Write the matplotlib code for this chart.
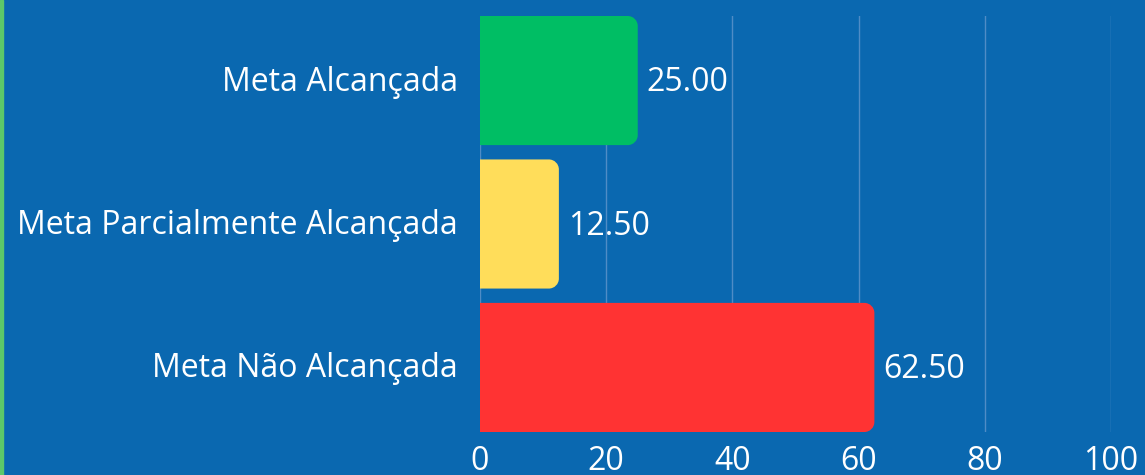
import matplotlib
matplotlib.use('Agg')
import matplotlib.pyplot as plt
import matplotlib.transforms as mtransforms
from matplotlib.patches import PathPatch, Rectangle
from matplotlib.path import Path

categories = ['Meta Alcançada', 'Meta Parcialmente Alcançada', 'Meta Não Alcançada']
values = [25.00, 12.50, 62.50]
colors = ['#00be64', '#ffdd5a', '#ff3333']
xticks = [0, 20, 40, 60, 80, 100]

bg = '#0a68b0'
W, H = 1145, 475
plt.rcParams['font.family'] = ['Open Sans', 'DejaVu Sans']

fig = plt.figure(figsize=(W / 100, H / 100), dpi=100, facecolor=bg)
left, right, top, bottom = 480, 1111, 16, 432
ax = fig.add_axes([left / W, 1 - bottom / H, (right - left) / W, (bottom - top) / H])
ax.set_facecolor(bg)
ax.set_xlim(0, 100)
ax.set_ylim(2.45, -0.45)

# left green strip
fig.patches.append(Rectangle((0, 0), 3 / W, 1, transform=fig.transFigure,
                             color='#5cc86a', zorder=0))

for x in xticks:
    ax.axvline(x, color='#4f8cc6', lw=1, zorder=0)


def right_rounded(x0, y0, w, h, rx, ry):
    # bar path with the two right-hand corners rounded
    k = 0.5523
    verts = [(x0, y0), (x0 + w - rx, y0),
             (x0 + w - rx + k * rx, y0), (x0 + w, y0 + ry - k * ry), (x0 + w, y0 + ry),
             (x0 + w, y0 + h - ry),
             (x0 + w, y0 + h - ry + k * ry), (x0 + w - rx + k * rx, y0 + h), (x0 + w - rx, y0 + h),
             (x0, y0 + h), (x0, y0)]
    codes = [Path.MOVETO, Path.LINETO,
             Path.CURVE4, Path.CURVE4, Path.CURVE4,
             Path.LINETO,
             Path.CURVE4, Path.CURVE4, Path.CURVE4,
             Path.LINETO, Path.CLOSEPOLY]
    return Path(verts, codes)


bh = 0.9
px_x = (right - left) / 100.0
px_y = (bottom - top) / 2.9
r = 10
for i, (v, c) in enumerate(zip(values, colors)):
    p = right_rounded(0, i - bh / 2, v, bh, r / px_x, r / px_y)
    ax.add_patch(PathPatch(p, fc=c, ec='none', zorder=2))
    ax.annotate('%.2f' % v, (v, i), xytext=(6.5, -1.5), textcoords='offset points',
                color='white', fontsize=23, va='center', ha='left')

ax.set_yticks(range(len(categories)))
ax.set_yticklabels(categories)
ax.set_xticks(xticks)
ax.tick_params(axis='both', length=0, colors='white', labelsize=23)
ax.tick_params(axis='y', pad=16)
ax.tick_params(axis='x', pad=9)
up = mtransforms.ScaledTranslation(0, 2.5 / 100, fig.dpi_scale_trans)
for lab in ax.get_yticklabels():
    lab.set_transform(lab.get_transform() + up)
for s in ax.spines.values():
    s.set_visible(False)

fig.savefig('out.png', dpi=100, facecolor=bg)
